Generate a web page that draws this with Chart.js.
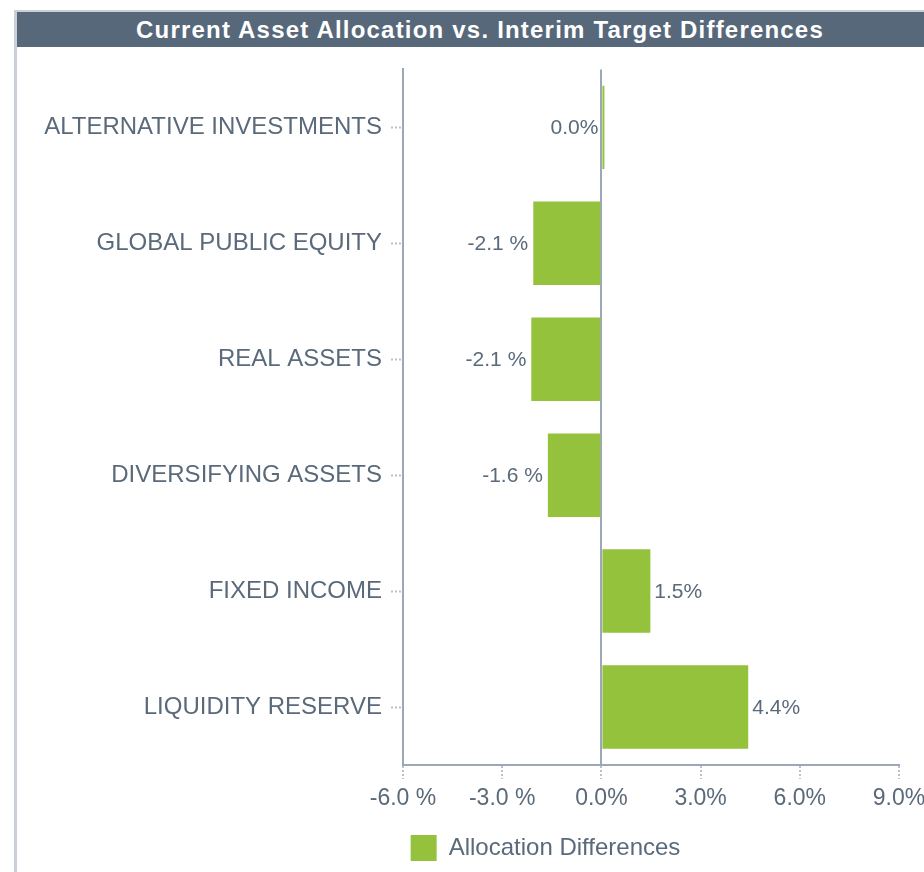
<!DOCTYPE html>
<html>
<head>
<meta charset="utf-8">
<script src="https://cdn.jsdelivr.net/npm/chart.js@4/dist/chart.umd.min.js"></script>
<style>
    body { margin: 0; background: #fff; overflow: hidden; width: 924px; height: 872px; position: relative; }
    #frame { position: absolute; left: 14px; top: 10px; width: 930px; height: 880px;
             border-top: 2px solid #c9d0da; border-left: 3px solid #c9d0da; }
    #title { position: absolute; left: 17px; top: 12px; width: 926px; height: 31px; padding-top: 4px;
             line-height: 30px; background: #566879; color: #fff; text-align: center;
             font: bold 24px "Liberation Sans", Arial, sans-serif; letter-spacing: 1.2px; }
    #wrap { position: absolute; left: 0; top: 46px; width: 924px; height: 826px; }
</style>
</head>
<body>
<div id="frame"></div>
<div id="title">Current Asset Allocation vs. Interim Target Differences</div>
<div id="wrap"><canvas id="chart"></canvas></div>
<script>
const categories = ["ALTERNATIVE INVESTMENTS", "GLOBAL PUBLIC EQUITY", "REAL ASSETS",
    "DIVERSIFYING ASSETS", "FIXED INCOME", "LIQUIDITY RESERVE"];
const differences = [0.04, -2.06, -2.12, -1.62, 1.48, 4.44];
const xTicks = [-6, -3, 0, 3, 6, 9];
const seriesName = "Allocation Differences";

const FONT = '"Liberation Sans", Arial, sans-serif';
const TEXT = "#5a6a7b";
const AXIS = "#9ba8b7";
const TICK = "#b9c2cc";
const GREEN = "#95c23d";

function pct(v) {
    return v < 0 ? v.toFixed(1) + " %" : v.toFixed(1) + "%";
}

// value labels at the end of each bar
const barLabels = {
    id: "barLabels",
    afterDatasetsDraw(chart) {
        const ctx = chart.ctx;
        const meta = chart.getDatasetMeta(0);
        ctx.save();
        ctx.font = "21px " + FONT;
        ctx.fillStyle = TEXT;
        ctx.textBaseline = "middle";
        meta.data.forEach((bar, i) => {
            const v = differences[i];
            if (v < 0) {
                ctx.textAlign = "right";
                ctx.fillText(pct(v), bar.x - 5, bar.y + 1);
            } else if (v < 0.1) {
                ctx.textAlign = "right";
                ctx.fillText(pct(v), bar.base - 4, bar.y + 1);
            } else {
                ctx.textAlign = "left";
                ctx.fillText(pct(v), bar.x + 4, bar.y + 1);
            }
        });
        ctx.restore();
    }
};

// push legend towards the right like the original
const legendShift = {
    id: "legendShift",
    afterLayout(chart) {
        chart.legend.left += 96;
        chart.legend.right += 96;
    }
};

new Chart(document.getElementById("chart"), {
    type: "bar",
    data: {
        labels: categories,
        datasets: [{
            label: seriesName,
            data: differences,
            backgroundColor: GREEN,
            borderWidth: 0,
            minBarLength: 3,
            barPercentage: 0.72,
            categoryPercentage: 1
        }]
    },
    options: {
        indexAxis: "y",
        responsive: true,
        maintainAspectRatio: false,
        animation: false,
        layout: { padding: { left: 0, right: 25, top: 23, bottom: 1 } },
        scales: {
            x: {
                min: -6,
                max: 9,
                afterBuildTicks(scale) {
                    scale.ticks = xTicks.map(v => ({ value: v }));
                },
                afterFit(scale) {
                    scale.height = 60;
                    scale.paddingLeft = 0;
                    scale.paddingRight = 0;
                },
                border: { display: true, color: AXIS, width: 2 },
                grid: {
                    color: c => (c.tick && c.tick.value === 0 ? AXIS : "rgba(0,0,0,0)"),
                    lineWidth: 2,
                    drawTicks: true,
                    tickLength: 14,
                    tickColor: TICK,
                    tickWidth: 2,
                    tickBorderDash: [2, 2]
                },
                ticks: {
                    padding: 6,
                    color: TEXT,
                    font: { family: FONT, size: 23 },
                    maxRotation: 0,
                    callback: v => pct(v)
                }
            },
            y: {
                afterFit(scale) { scale.width = 403; },
                border: { display: true, color: AXIS, width: 2 },
                grid: {
                    offset: false,
                    drawOnChartArea: false,
                    drawTicks: true,
                    tickLength: 12,
                    tickColor: TICK,
                    tickWidth: 2,
                    tickBorderDash: [2, 2]
                },
                ticks: {
                    padding: 9,
                    color: TEXT,
                    font: { family: FONT, size: 24 }
                }
            }
        },
        plugins: {
            legend: {
                position: "bottom",
                labels: {
                    boxWidth: 26,
                    boxHeight: 26,
                    padding: 10,
                    color: TEXT,
                    font: { family: FONT, size: 24 }
                }
            },
            tooltip: { enabled: false }
        }
    },
    plugins: [barLabels, legendShift]
});
</script>
</body>
</html>
